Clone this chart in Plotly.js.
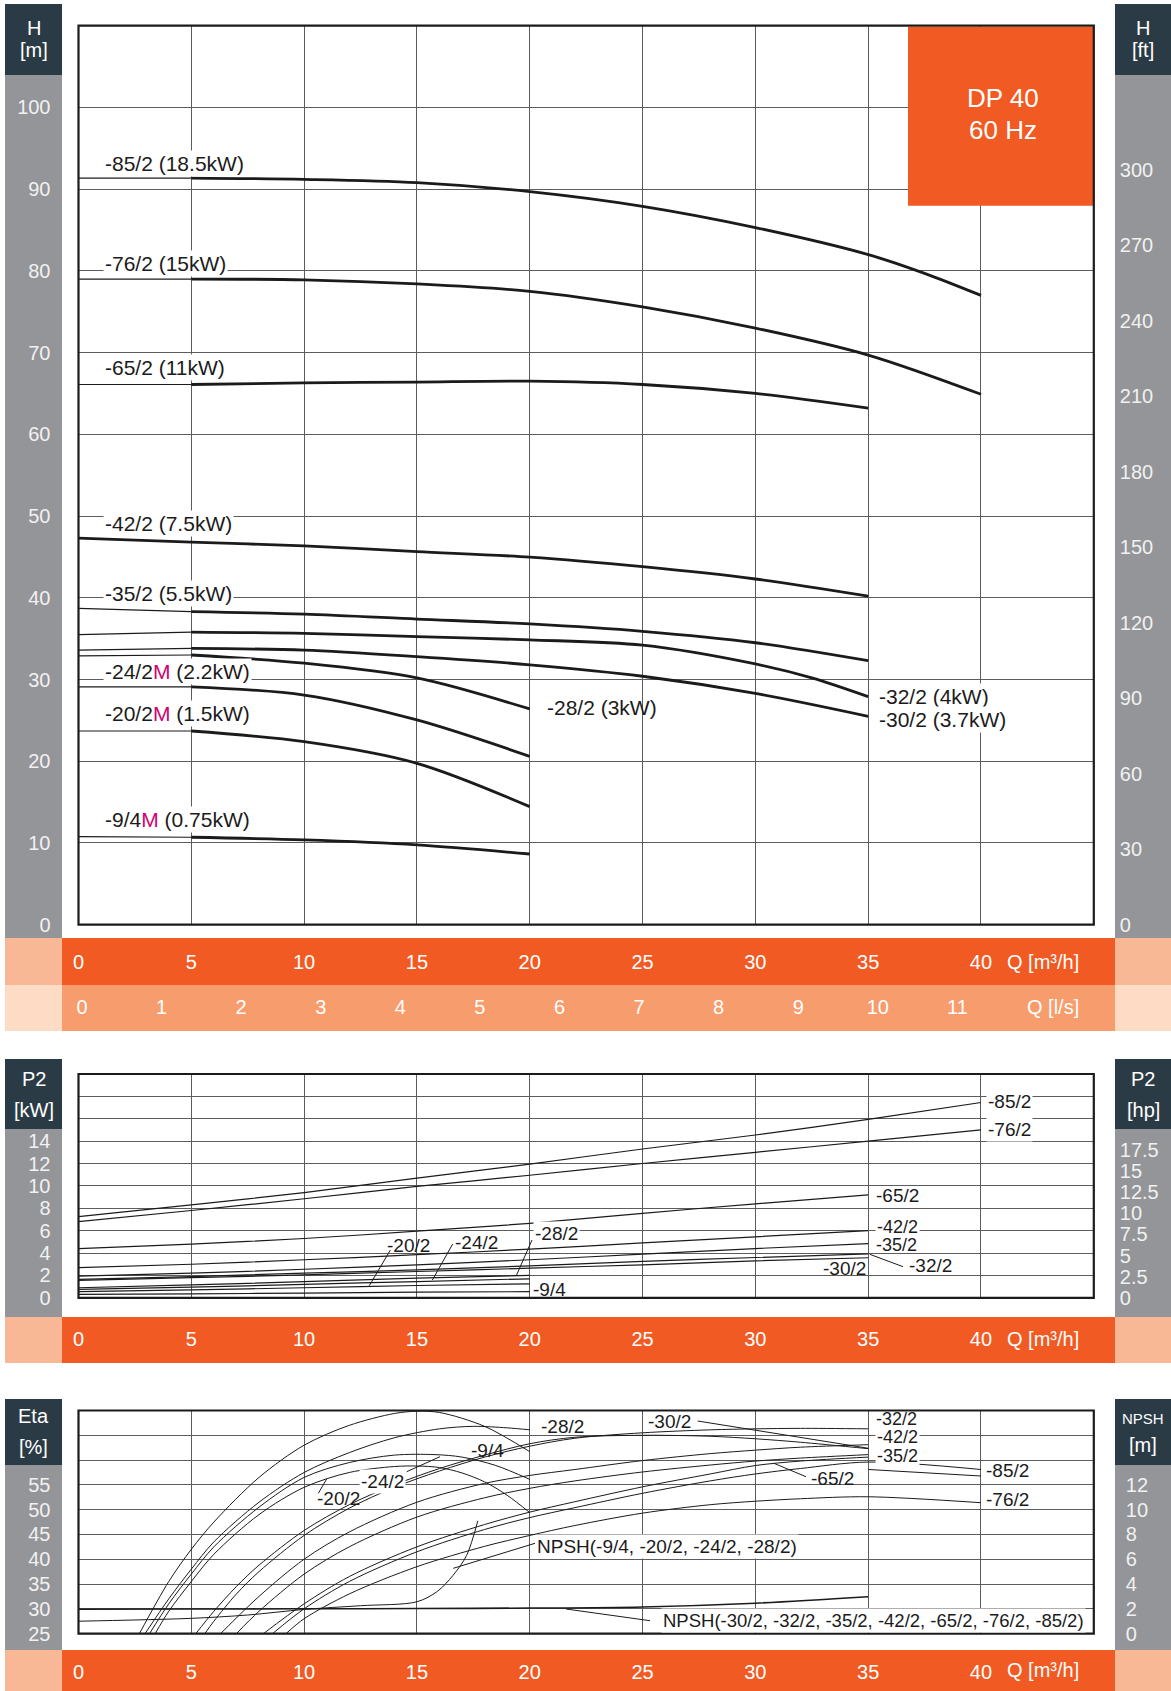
<!DOCTYPE html>
<html><head><meta charset="utf-8">
<script src="https://cdn.plot.ly/plotly-3.0.1.min.js"></script>
<style>html,body{margin:0;padding:0;background:#fff}#chart{width:1171px;height:1691px}</style>
</head><body><div id="chart"></div>
<script>
// ---------------- DATA ----------------
const qTicks = [0, 5, 10, 15, 20, 25, 30, 35, 40];
const qLsTicks = [0, 1, 2, 3, 4, 5, 6, 7, 8, 9, 10, 11];
const hMTicks = [0, 10, 20, 30, 40, 50, 60, 70, 80, 90, 100];
const hFtTicks = [0, 30, 60, 90, 120, 150, 180, 210, 240, 270, 300];
const p2KwTicks = [0, 2, 4, 6, 8, 10, 12, 14, 16, 18, 20];
const p2KwText = ['0', '2', '4', '6', '8', '10', '12', '14', '', '', ''];
const p2HpTicks = [0, 2.5, 5, 7.5, 10, 12.5, 15, 17.5];
const etaTicks = [25, 30, 35, 40, 45, 50, 55, 60, 65, 70];
const etaText = ['25', '30', '35', '40', '45', '50', '55', '', '', ''];
const npshTicks = [0, 2, 4, 6, 8, 10, 12];

// Head curves H [m] vs Q [m3/h]
const qH85 = [0, 5, 10, 15, 20, 25, 30, 35, 37.5, 40];
const h85 = [91.35, 91.35, 91.2, 90.8, 89.7, 87.9, 85.3, 82.0, 79.7, 77.0];
const qH76 = [0, 5, 10, 15, 20, 25, 30, 35, 40];
const h76 = [79.0, 79.0, 78.9, 78.4, 77.5, 75.6, 73.0, 69.7, 64.9];
const qH65 = [0, 5, 10, 15, 20, 25, 30, 35];
const h65 = [66.1, 66.1, 66.3, 66.4, 66.5, 66.1, 65.0, 63.2];
const qH42 = [0, 5, 10, 15, 20, 25, 30, 35];
const h42 = [47.3, 46.8, 46.35, 45.65, 44.97, 43.8, 42.3, 40.2];
const qH35 = [0, 5, 10, 15, 20, 25, 30, 35];
const h35 = [38.7, 38.3, 38.0, 37.4, 36.8, 35.9, 34.5, 32.3];
const qH32 = [0, 5, 10, 15, 20, 25, 30, 32.5, 35];
const h32 = [35.5, 35.8, 35.65, 35.25, 34.85, 34.2, 31.9, 30.2, 27.9];
const qH30 = [0, 5, 10, 15, 20, 25, 30, 35];
const h30 = [33.6, 33.8, 33.6, 32.8, 31.8, 30.4, 28.3, 25.5];
const qH28 = [0, 5, 10, 15, 20];
const h28 = [32.9, 33.0, 32.0, 30.2, 26.4];
const qH24 = [0, 5, 10, 15, 20];
const h24 = [29.1, 29.1, 28.1, 25.05, 20.6];
const qH20 = [0, 5, 10, 15, 20];
const h20 = [23.7, 23.7, 22.4, 19.75, 14.45];
const qH9 = [0, 5, 10, 15, 20];
const h9 = [10.77, 10.7, 10.37, 9.76, 8.65];

// Power curves P2 [kW]
const qP40 = [0, 5, 10, 15, 20, 25, 30, 35, 40];
const qP35 = [0, 5, 10, 15, 20, 25, 30, 35];
const qP20 = [0, 5, 10, 15, 20];
const p85 = [7.25, 8.3, 9.4, 10.7, 11.95, 13.3, 14.55, 15.95, 17.45];
const p76 = [6.8, 7.8, 8.85, 9.95, 10.95, 12.0, 13.0, 14.0, 15.0];
const p65 = [4.4, 4.8, 5.3, 5.95, 6.65, 7.55, 8.4, 9.2];
const p42 = [2.7, 3.0, 3.4, 3.85, 4.35, 4.9, 5.45, 6.0];
const p35 = [1.93, 2.2, 2.55, 2.95, 3.4, 3.9, 4.4, 4.85];
const p32 = [1.65, 1.9, 2.2, 2.5, 2.85, 3.25, 3.6, 3.92];
const p30 = [1.55, 1.8, 2.05, 2.35, 2.65, 2.95, 3.3, 3.58];
const p28 = [0.9, 1.15, 1.45, 1.75, 2.0];
const p24 = [0.75, 0.95, 1.2, 1.45, 1.7];
const p20 = [0.55, 0.7, 0.9, 1.1, 1.25];
const p9 = [0.3, 0.35, 0.42, 0.5, 0.55];

// Efficiency curves Eta [%]
const qE9 = [2.7, 4, 5, 6, 8, 10, 12, 14, 15, 16, 18, 20];
const e9 = [25, 35.5, 42, 47.5, 56.5, 63, 67, 69.4, 69.85, 69.6, 66.8, 61.7];
const qE28 = [2.95, 4, 5, 6, 8, 10, 12, 14, 16, 17.5, 19, 20];
const e28 = [25, 32, 38, 43.5, 51.5, 57.5, 61.5, 64.5, 66.3, 66.8, 66.5, 66.1];
const qE24 = [3.15, 4, 5, 6, 8, 10, 12, 14, 15.8, 17, 18.5, 20];
const e24 = [25, 31, 37, 42.5, 50.5, 56.5, 59.5, 61, 61.1, 60.6, 58.9, 56.1];
const qE20 = [3.4, 4, 5, 6, 8, 10, 12, 14, 15, 16, 17, 18, 19, 20];
const e20 = [25, 29.5, 35.5, 41, 49, 54.5, 57.5, 58.7, 58.8, 58.5, 57.4, 55.6, 52.9, 49.4];
const qE30 = [5.2, 6, 7, 8, 10, 12, 14, 16, 18, 20, 22, 25, 28, 30, 32, 35];
const e30 = [25, 29.5, 34.5, 38.8, 45.8, 51, 55, 58.3, 61, 63.3, 64.6, 65.0, 64.8, 64.3, 63.6, 62.3];
const qE32 = [5.6, 6, 7, 8, 10, 12, 14, 16, 18, 20, 22, 25, 28, 30, 32, 35];
const e32 = [25, 27.5, 33, 37.5, 44.8, 50.3, 54.5, 57.8, 60.6, 62.8, 64.4, 65.5, 66.1, 66.3, 66.4, 66.3];
const qE42 = [6.3, 8, 10, 12, 15, 18, 20, 22, 25, 28, 30, 32, 35];
const e42 = [25, 32.5, 40, 45.5, 51.5, 55.3, 56.9, 58.1, 59.9, 61.3, 62, 62.6, 63.1];
const qE35 = [7.0, 8, 10, 12, 15, 18, 20, 22, 25, 28, 30, 32, 35];
const e35 = [25, 29.5, 37, 42.5, 48.5, 52.4, 54.3, 55.8, 57.6, 59, 59.8, 60.4, 61.1];
const qE65 = [8.2, 10, 12, 15, 18, 20, 22, 25, 28, 30, 32, 35];
const e65 = [25, 31, 36.5, 42.5, 47, 49.5, 51.6, 54.6, 57.2, 58.9, 59.8, 60.6];
const qE85 = [8.6, 10, 12, 15, 18, 20, 22, 25, 28, 30, 32, 35, 40];
const e85 = [25, 30, 35.5, 41.5, 46, 48.4, 50.4, 53.3, 55.8, 57.2, 58.3, 59.6, 58.1];
const qE76 = [9.2, 10, 12, 15, 18, 20, 22, 25, 28, 30, 32, 35, 40];
const e76 = [25, 28, 33, 38.5, 42.6, 44.8, 46.8, 49.3, 51, 51.7, 52.2, 52.6, 51.4];

// NPSH curves [m]
const qNpshBig = [0, 5, 10, 15, 20, 25, 30, 35];
const npshBig = [1.97, 1.98, 2.0, 2.02, 2.06, 2.15, 2.45, 2.97];
const qNpshSmall = [0, 2.5, 5, 7.5, 10, 12.5, 15, 15.9, 16.6, 17.2, 17.7];
const npshSmall = [1.0, 1.1, 1.23, 1.5, 1.95, 2.25, 2.57, 3.4, 4.7, 6.3, 9.1];

// ---------------- LAYOUT HELPERS ----------------
const W = 1171, HT = 1691;
const fx = x => x / W;
const fy = y => 1 - y / HT;
const FONT = 'Liberation Sans, Arial, Helvetica, sans-serif';
const INK = '#1b1b1b';
const GRID = '#5c5c5c';
const LIGHT = '#f1f1f1';
const ORANGE = '#f15a22', SALMON = '#f9b895', PEACH = '#f69c6d', PALE = '#fddbc4';
const DARK = '#2a3b46', GRAY = '#939598';

const L = 78.5, R = 1093.8;
const TOP = { t: 25.7, b: 924.7 };
const MID = { t: 1074, b: 1297.8 };
const BOT = { t: 1410.5, b: 1633.6 };

const traces = [];
function line(q, v, xa, ya, w, shape) {
  traces.push({ type: 'scatter', mode: 'lines', x: q, y: v, xaxis: xa, yaxis: ya,
    line: { color: INK, width: w, shape: shape || 'spline', smoothing: 0.9 }, hoverinfo: 'skip' });
}
// head curves: thin from 0 to 5, thick from 5 onward
const headCurves = [[qH85, h85], [qH76, h76], [qH65, h65], [qH35, h35], [qH32, h32],
  [qH30, h30], [qH28, h28], [qH24, h24], [qH20, h20], [qH9, h9]];
headCurves.forEach(([q, h]) => {
  line(q.slice(0, 2), h.slice(0, 2), 'x', 'y', 1.2, 'linear');
  line(q.slice(1), h.slice(1), 'x', 'y', 2.8);
});
line(qH42, h42, 'x', 'y', 2.8);

[[qP40, p85], [qP40, p76], [qP35, p65], [qP35, p42], [qP35, p35], [qP35, p32], [qP35, p30],
 [qP20, p28], [qP20, p24], [qP20, p20], [qP20, p9]].forEach(([q, p]) => line(q, p, 'x2', 'y2', 1.2));

[[qE9, e9], [qE28, e28], [qE24, e24], [qE20, e20], [qE30, e30], [qE32, e32], [qE42, e42],
 [qE35, e35], [qE65, e65], [qE85, e85], [qE76, e76]].forEach(([q, e]) => line(q, e, 'x3', 'y3', 1.0));
line(qNpshBig, npshBig, 'x3', 'y6', 1.6);
line(qNpshSmall, npshSmall, 'x3', 'y6', 1.0);

// invisible anchors so the secondary scales are drawn
traces.push({ type: 'scatter', mode: 'markers', x: [qLsTicks[0]], y: [hMTicks[0]], xaxis: 'x4', yaxis: 'y', marker: { opacity: 0 }, hoverinfo: 'skip' });
traces.push({ type: 'scatter', mode: 'markers', x: [qTicks[0]], y: [hFtTicks[0]], xaxis: 'x', yaxis: 'y4', marker: { opacity: 0 }, hoverinfo: 'skip' });
traces.push({ type: 'scatter', mode: 'markers', x: [qTicks[0]], y: [p2HpTicks[0]], xaxis: 'x2', yaxis: 'y5', marker: { opacity: 0 }, hoverinfo: 'skip' });

const dom = [fx(L), fx(R)];
function xAxis(anchor, standoff) {
  return { domain: dom, range: [0, 45], anchor: anchor, tickvals: qTicks, showgrid: true, gridcolor: GRID, gridwidth: 1,
    zeroline: false, showline: false, ticks: '', tickfont: { family: FONT, size: 20, color: '#ffffff' },
    ticklabelstandoff: standoff, fixedrange: true };
}
function yAxis(anchor, box, range, vals, text, standoff) {
  const a = { domain: [fy(box.b), fy(box.t)], range: range, anchor: anchor, tickvals: vals, showgrid: true,
    gridcolor: GRID, gridwidth: 1, zeroline: false, showline: false, ticks: '',
    tickfont: { family: FONT, size: 20, color: LIGHT }, ticklabelstandoff: standoff, fixedrange: true };
  if (text) a.ticktext = text;
  return a;
}
function yRight(over, anchor, range, vals, standoff) {
  return { overlaying: over, anchor: anchor, side: 'right', range: range, tickvals: vals, showgrid: false,
    zeroline: false, showline: false, ticks: '', tickfont: { family: FONT, size: 20, color: LIGHT },
    ticklabelstandoff: standoff, fixedrange: true };
}

const shapes = [];
function rect(x0, y0, x1, y1, fill, layer) {
  shapes.push({ type: 'rect', xref: 'paper', yref: 'paper', x0: fx(x0), x1: fx(x1), y0: fy(y1), y1: fy(y0),
    fillcolor: fill, line: { width: 0 }, layer: layer || 'below' });
}
function seg(x0, y0, x1, y1) {
  shapes.push({ type: 'line', xref: 'paper', yref: 'paper', x0: fx(x0), x1: fx(x1), y0: fy(y0), y1: fy(y1),
    line: { color: INK, width: 1 }, layer: 'above' });
}
function frame(box) {
  shapes.push({ type: 'rect', xref: 'paper', yref: 'paper', x0: fx(L), x1: fx(R), y0: fy(box.b), y1: fy(box.t),
    line: { color: INK, width: 2.2 }, fillcolor: 'rgba(0,0,0,0)', layer: 'above' });
}
const SL = 5, SR = 62, RL = 1115, RR = 1171;
// top block
rect(SL, 4, SR, 75, DARK); rect(SL, 75, SR, 938, GRAY);
rect(RL, 4, RR, 75, DARK); rect(RL, 75, RR, 938, GRAY);
rect(SL, 938, SR, 985, SALMON); rect(SR, 938, RL, 985, ORANGE); rect(RL, 938, RR, 985, SALMON);
rect(SL, 985, SR, 1031, PALE); rect(SR, 985, RL, 1031, PEACH); rect(RL, 985, RR, 1031, PALE);
// middle block
rect(SL, 1059, SR, 1129, DARK); rect(SL, 1129, SR, 1317, GRAY);
rect(RL, 1059, RR, 1129, DARK); rect(RL, 1129, RR, 1317, GRAY);
rect(SL, 1317, SR, 1363, SALMON); rect(SR, 1317, RL, 1363, ORANGE); rect(RL, 1317, RR, 1363, SALMON);
// bottom block
rect(SL, 1399, SR, 1465, DARK); rect(SL, 1465, SR, 1650, GRAY);
rect(RL, 1399, RR, 1465, DARK); rect(RL, 1465, RR, 1650, GRAY);
rect(SL, 1650, SR, 1691, SALMON); rect(SR, 1650, RL, 1691, ORANGE); rect(RL, 1650, RR, 1691, SALMON);
// DP box
rect(908, 26.7, R, 205.7, ORANGE, 'above');
frame(TOP); frame(MID); frame(BOT);
// leader lines
seg(869.8, 1254.3, 903, 1266.7);
seg(532, 1240, 516.6, 1275);
seg(452.7, 1244, 432.4, 1280);
seg(390.4, 1250, 369.3, 1285.7);
seg(697.7, 1421, 868.6, 1448.3);
seg(773.9, 1463.3, 806, 1476.7);
seg(406.7, 1471.7, 440, 1456.7);
seg(318.3, 1493.3, 326.7, 1479);
seg(535, 1543.3, 453.3, 1568.3);
seg(566, 1609, 650, 1620.7);
seg(868.6, 1469.5, 981, 1476);

const ann = [];
function lab(text, x, y, size, bg, color, anchor) {
  ann.push({ text: text, xref: 'paper', yref: 'paper', x: fx(x), y: fy(y), xanchor: anchor || 'left', yanchor: 'middle',
    showarrow: false, font: { family: FONT, size: size, color: color || INK },
    bgcolor: bg ? '#ffffff' : 'rgba(0,0,0,0)', borderpad: bg ? 1 : 0 });
}
const M = '<span style="color:#d4006e">M</span>';
// headers
lab('H', 33.5, 28.3, 20, false, '#fff', 'center'); lab('[m]', 33.5, 50, 20, false, '#fff', 'center');
lab('H', 1143, 28.3, 20, false, '#fff', 'center'); lab('[ft]', 1143, 50, 20, false, '#fff', 'center');
lab('P2', 33.5, 1079, 20, false, '#fff', 'center'); lab('[kW]', 33.5, 1110, 20, false, '#fff', 'center');
lab('P2', 1143, 1079, 20, false, '#fff', 'center'); lab('[hp]', 1143, 1110, 20, false, '#fff', 'center');
lab('Eta', 33.5, 1416, 20, false, '#fff', 'center'); lab('[%]', 33.5, 1446.7, 20, false, '#fff', 'center');
lab('NPSH', 1143, 1418, 15, false, '#fff', 'center'); lab('[m]', 1143, 1445, 20, false, '#fff', 'center');
lab('DP 40', 1003, 98.3, 26, false, '#fff', 'center'); lab('60 Hz', 1003, 130, 26, false, '#fff', 'center');
// unit labels in bands
lab('Q [m³/h]', 1080, 961.7, 20, false, '#fff', 'right');
lab('Q [l/s]', 1080, 1007, 20, false, '#fff', 'right');
lab('Q [m³/h]', 1080, 1339.3, 20, false, '#fff', 'right');
lab('Q [m³/h]', 1080, 1670, 20, false, '#fff', 'right');
// head chart labels
lab('-85/2 (18.5kW)', 103, 163, 21, true);
lab('-76/2 (15kW)', 103, 263, 21, true);
lab('-65/2 (11kW)', 103, 368, 21, true);
lab('-42/2 (7.5kW)', 103, 523.5, 21, true);
lab('-35/2 (5.5kW)', 103, 593.5, 21, true);
lab('-24/2' + M + ' (2.2kW)', 103, 671, 21, true);
lab('-20/2' + M + ' (1.5kW)', 103, 713, 21, true);
lab('-9/4' + M + ' (0.75kW)', 103, 820, 21, true);
lab('-28/2 (3kW)', 546, 707, 21, false);
lab('-32/2 (4kW)', 876.5, 696, 21, true);
lab('-30/2 (3.7kW)', 876.5, 719.5, 21, true);
// power chart labels
lab('-85/2', 986, 1101.7, 19, true);
lab('-76/2', 986, 1129, 19, true);
lab('-65/2', 875, 1195.7, 19, false);
lab('-42/2', 875, 1226.5, 18, true);
lab('-35/2', 875, 1245, 18, false);
lab('-32/2', 908, 1265, 19, false);
lab('-30/2', 822, 1268.3, 19, false);
lab('-28/2', 533, 1233.3, 19, true);
lab('-24/2', 454, 1242.7, 19, false);
lab('-20/2', 386, 1245, 19, false);
lab('-9/4', 532, 1289.3, 19, false);
// efficiency chart labels
lab('-42/2', 875, 1437, 18, true);
lab('-35/2', 875, 1456, 18, true);
lab('-32/2', 875, 1418.5, 18, false);
lab('-85/2', 985, 1470.5, 19, false);
lab('-76/2', 985, 1499.5, 19, false);
lab('-65/2', 810, 1478.5, 19, false);
lab('-30/2', 647, 1421, 19, false);
lab('-28/2', 540, 1426, 19, false);
lab('-9/4', 470, 1450, 19, false);
lab('-24/2', 359, 1481.7, 19, true);
lab('-20/2', 316, 1498.3, 19, false);
lab('NPSH(-9/4, -20/2, -24/2, -28/2)', 535, 1546.3, 19, true);
lab('NPSH(-30/2, -32/2, -35/2, -42/2, -65/2, -76/2, -85/2)', 661, 1620.7, 18.5, true);

const layout = {
  width: W, height: HT, margin: { l: 0, r: 0, t: 0, b: 0 }, paper_bgcolor: '#ffffff', plot_bgcolor: '#ffffff',
  showlegend: false, hovermode: false, font: { family: FONT, color: INK },
  xaxis: xAxis('y', 23),
  yaxis: yAxis('x', TOP, [0, 110], hMTicks, null, 27),
  xaxis4: { overlaying: 'x', anchor: 'y', side: 'bottom', range: [-0.044, 12.714], tickvals: qLsTicks, showgrid: false,
    zeroline: false, showline: false, ticks: '', tickfont: { family: FONT, size: 20, color: '#ffffff' },
    ticklabelstandoff: 68, fixedrange: true },
  yaxis4: yRight('y', 'x', [0, 357.3], hFtTicks, 25),
  xaxis2: xAxis('y2', 27),
  yaxis2: yAxis('x2', MID, [0, 20], p2KwTicks, p2KwText, 27),
  yaxis5: yRight('y2', 'x2', [0, 26.5], p2HpTicks, 25),
  xaxis3: xAxis('y3', 24),
  yaxis3: yAxis('x3', BOT, [25, 70], etaTicks, etaText, 27),
  yaxis6: yRight('y3', 'x3', [0, 18], npshTicks, 31),
  shapes: shapes, annotations: ann
};
Plotly.newPlot('chart', traces, layout, { staticPlot: true, displayModeBar: false });
</script></body></html>
